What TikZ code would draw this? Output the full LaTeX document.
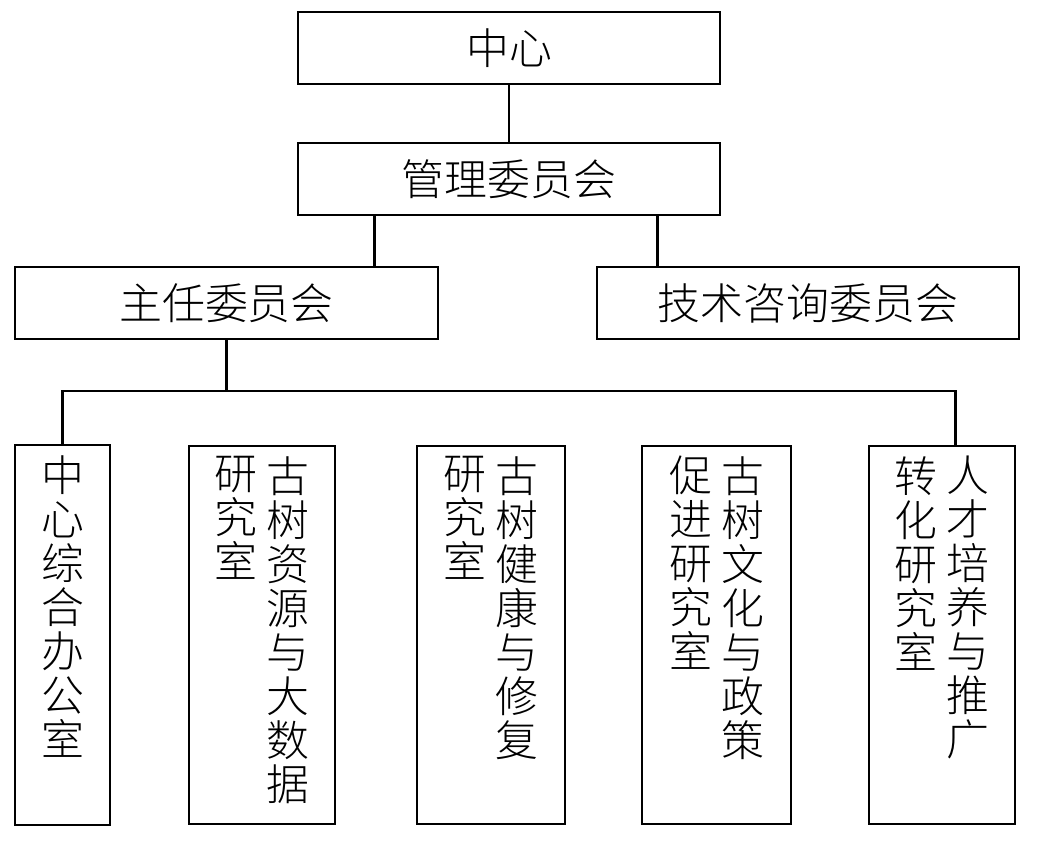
\documentclass[tikz,border=0pt]{standalone}
\usepackage{fontspec}
\newfontfamily\cjk{Noto Sans CJK SC Light}
\usetikzlibrary{positioning, calc}

\begin{document}
\begin{tikzpicture}[
    unit/.style={draw, line width=1.2pt, minimum width=10.55cm, minimum height=1.8cm,
                 inner sep=0pt, outer sep=0pt, font=\cjk\fontsize{30.5}{31.3}\selectfont},
    dept/.style={draw, line width=1.2pt, minimum width=3.65cm, minimum height=9.45cm,
                 inner sep=0pt, outer sep=0pt},
    col/.style={anchor=north, inner sep=0pt, align=center,
                font=\cjk\fontsize{30.5}{31.3}\selectfont},
    link/.style={line width=2pt},
  ]
  \useasboundingbox (0,0) rectangle (26.125,-21.125);

  % ── Top ──
  \node[unit] (center) at (12.725,-1.2) {中心};
  \node[unit, below=1.475cm of center] (mgmt) {管理委员会};

  % ── Committees ──
  \node[unit, minimum width=10.575cm, below=1.3cm of mgmt, xshift=-7.0625cm] (director) {主任委员会};
  \node[unit, below=1.3cm of mgmt, xshift=7.475cm] (techadv) {技术咨询委员会};

  % ── Offices ──
  \node[dept, minimum width=2.375cm, minimum height=9.5cm,
        below=2.65cm of director.south west, anchor=north west] (office) {};
  \node[dept, right=1.975cm of office] (resdata) {};
  \node[dept, right=2.05cm of resdata, minimum width=3.7cm] (health) {};
  \node[dept, right=1.925cm of health, minimum width=3.725cm] (culture) {};
  \node[dept, right=1.95cm of culture] (talent) {};

  % ── Vertical labels (right column read first) ──
  \node[col] (office-a) at ($(office.north)+(0,-0.25)$) {中\\心\\综\\合\\办\\公\\室};
  \node[col] (resdata-a) at ($(resdata.north)+(0.65,-0.25)$) {古\\树\\资\\源\\与\\大\\数\\据};
  \node[col] (resdata-b) at ($(resdata.north)+(-0.65,-0.25)$) {研\\究\\室};
  \node[col] (health-a) at ($(health.north)+(0.65,-0.25)$) {古\\树\\健\\康\\与\\修\\复};
  \node[col] (health-b) at ($(health.north)+(-0.65,-0.25)$) {研\\究\\室};
  \node[col] (culture-a) at ($(culture.north)+(0.65,-0.25)$) {古\\树\\文\\化\\与\\政\\策};
  \node[col] (culture-b) at ($(culture.north)+(-0.65,-0.25)$) {促\\进\\研\\究\\室};
  \node[col] (talent-a) at ($(talent.north)+(0.65,-0.25)$) {人\\才\\培\\养\\与\\推\\广};
  \node[col] (talent-b) at ($(talent.north)+(-0.65,-0.25)$) {转\\化\\研\\究\\室};

  % ── Connectors ──
  \draw[link] (center) -- (mgmt);

  \coordinate (m-left) at ($(mgmt.south west)!0.182!(mgmt.south east)$);
  \coordinate (m-right) at ($(mgmt.south west)!0.851!(mgmt.south east)$);
  \draw[link] (m-left) -- (m-left |- director.north);
  \draw[link] (m-right) -- (m-right |- techadv.north);

  % bus under 主任委员会
  \coordinate[below=1.3cm of director.south] (bus);
  \coordinate (t-drop) at ($(talent.north west)!0.59!(talent.north east)$);
  \draw[link] (director.south) -- (bus);
  \draw[link] (office.north) |- (bus) -| (t-drop);

\end{tikzpicture}
\end{document}
